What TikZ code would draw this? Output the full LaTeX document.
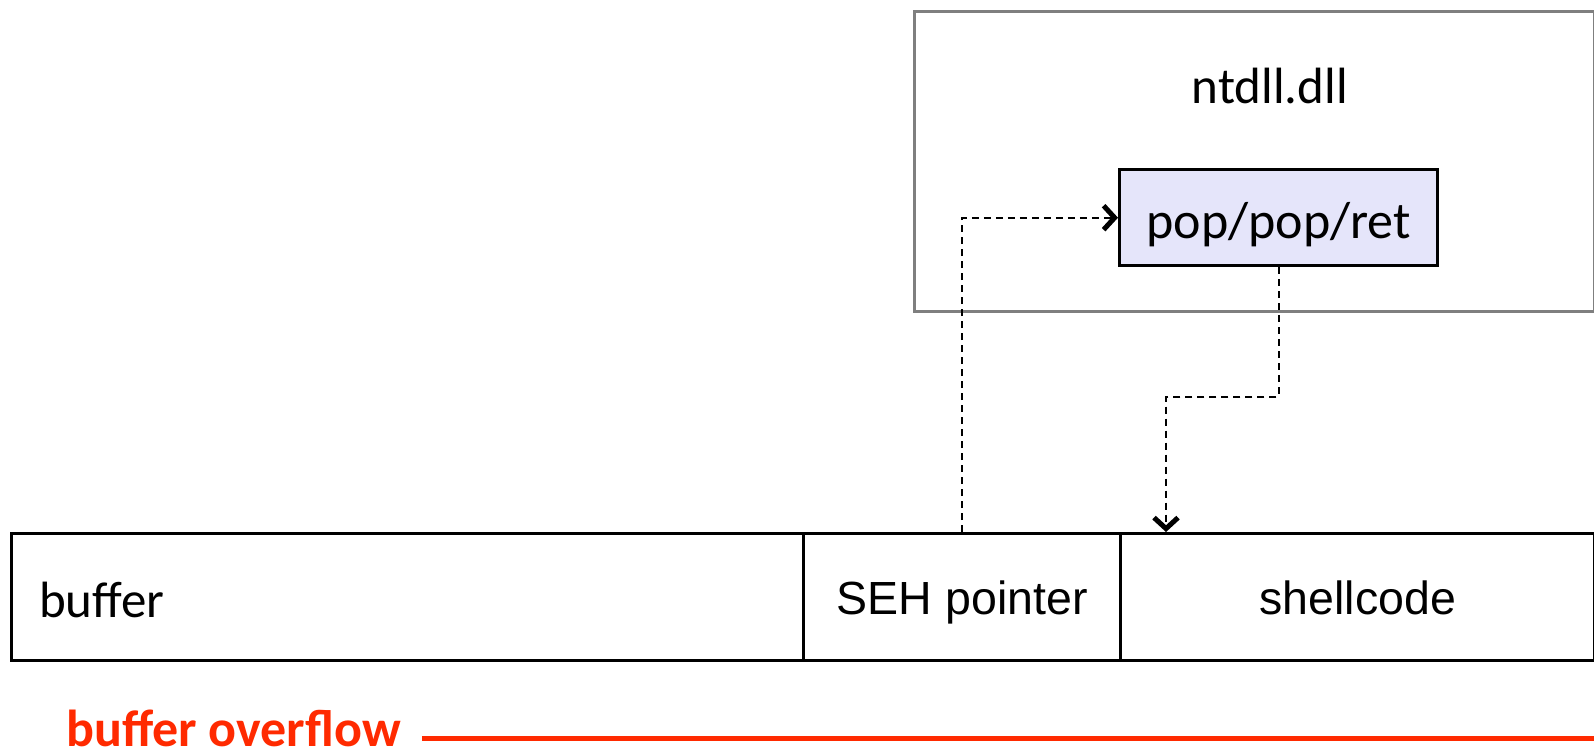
\documentclass[tikz,border=0pt]{standalone}
\usepackage{fontspec}
\setmainfont{Carlito}
\newfontfamily\arialfont{Liberation Sans}
\usetikzlibrary{arrows.meta,calc}

\definecolor{framegray}{RGB}{127,127,127}
\definecolor{gadgetfill}{RGB}{229,229,250}
\definecolor{alertred}{RGB}{255,42,0}

\tikzset{
  cell/.style={draw=black, line width=3.4pt, inner sep=0pt, anchor=north west},
  module/.style={draw=framegray, line width=3pt, inner sep=0pt, anchor=north west},
  gadget/.style={draw=black, line width=3.4pt, fill=gadgetfill, inner sep=0pt, anchor=north west,
    font=\fontsize{52}{60}\selectfont, text height=42pt, text depth=0pt},
  calibritext/.style={inner sep=0pt, font=\fontsize{51}{60}\selectfont},
  ariallabel/.style={font=\arialfont\fontsize{46.5}{56}\selectfont, text height=35pt, text depth=0pt},
  jump/.style={line width=1.7pt, dash pattern=on 7pt off 5pt,
    -{Straight Barb[length=11pt,width=24pt,line width'=5pt]}},
  overflow/.style={draw=alertred, line width=5pt},
}

\begin{document}
\begin{tikzpicture}[x=1pt,y=-1pt]
  \useasboundingbox (0,0) rectangle (1594,752);

  % loaded module with the gadget inside it
  \node[module, minimum width=680pt, minimum height=300pt] (dll) at (913,10) {};
  \node[calibritext, anchor=base] (dllname) at (1270,103) {ntdll.dll};
  \node[gadget, minimum width=318pt, minimum height=96pt] (pop) at (1118,168) {pop/pop/ret};

  % stack layout after the overwrite
  \node[cell, minimum width=792pt, minimum height=127pt] (buf) at (10,532) {};
  \node[calibritext, anchor=base west] (buftxt) at (39,617) {buffer};
  \node[cell, minimum width=317pt, minimum height=127pt, ariallabel] (seh) at (802,532) {SEH pointer};
  \node[cell, minimum width=474pt, minimum height=127pt, ariallabel] (shell) at (1119,532) {shellcode};

  % control flow: handler address -> gadget -> shellcode
  \draw[jump] (seh.north) |- (pop.west);
  \coordinate (jog) at (1166,397);
  \draw[jump] (pop.south) |- (jog) -- (jog |- shell.north);

  % extent of the overflow
  \node[inner sep=0pt, anchor=base west, text=alertred,
    font=\bfseries\fontsize{52}{60}\selectfont] (bo) at (66,746) {buffer overflow};
  \coordinate (edge) at (1600,738);
  \draw[overflow] ([xshift=21pt]bo.east |- edge) -- (edge);
\end{tikzpicture}
\end{document}
